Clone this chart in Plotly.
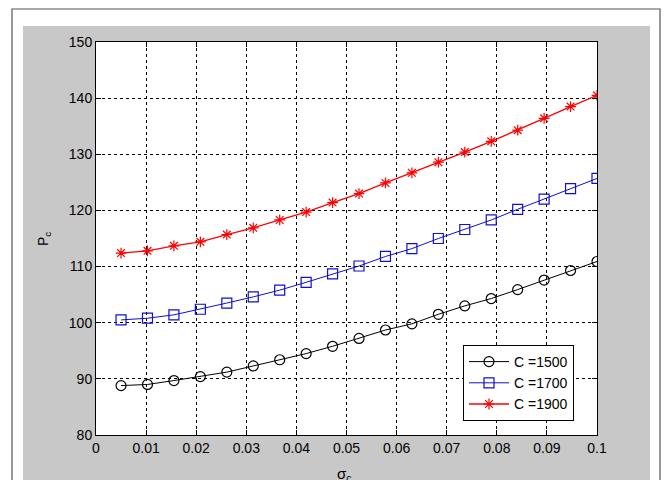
import plotly.graph_objects as go

sigma_c = [0.005 + i * 0.095 / 18 for i in range(19)]
p_1500 = [88.8, 89.0, 89.7, 90.4, 91.2, 92.3, 93.4, 94.5, 95.8, 97.2,
          98.7, 99.8, 101.5, 103.0, 104.3, 105.9, 107.6, 109.3, 110.9]
p_1700 = [100.5, 100.8, 101.4, 102.4, 103.5, 104.6, 105.8, 107.2, 108.7, 110.1,
          111.8, 113.2, 115.0, 116.6, 118.3, 120.2, 122.0, 123.9, 125.7]
p_1900 = [112.4, 112.8, 113.7, 114.4, 115.7, 116.9, 118.3, 119.7, 121.4, 123.0,
          124.9, 126.7, 128.6, 130.4, 132.3, 134.3, 136.4, 138.5, 140.5]
series_names = ["C =1500", "C =1700", "C =1900"]
x_ticks = [0, 0.01, 0.02, 0.03, 0.04, 0.05, 0.06, 0.07, 0.08, 0.09, 0.1]
x_tick_text = ["0", "0.01", "0.02", "0.03", "0.04", "0.05", "0.06", "0.07", "0.08", "0.09", "0.1"]
y_ticks = [80, 90, 100, 110, 120, 130, 140, 150]

W, H = 664, 480
L, R, T, B = 96, 597, 42, 435
pw, ph = R - L, B - T

def px(x):
    return (x - L) / pw

def py(y):
    return (B - y) / ph

fig = go.Figure()
styles = [
    dict(color="black", symbol="circle-open", size=10, width=1),
    dict(color="#1010d0", symbol="square-open", size=10, width=1),
    dict(color="#ff0000", symbol="asterisk-open", size=9, width=1.3),
]
for name, ys, st in zip(series_names, [p_1500, p_1700, p_1900], styles):
    fig.add_trace(go.Scatter(
        x=sigma_c, y=ys, mode="lines+markers", name=name,
        line=dict(color=st["color"], width=st["width"]),
        marker=dict(symbol=st["symbol"], size=st["size"], color=st["color"],
                    line=dict(color=st["color"], width=1.2)),
    ))

shapes = [
    dict(type="rect", xref="paper", yref="paper", layer="below",
         x0=px(12), x1=px(660), y0=py(9), y1=py(495),
         fillcolor="white", line=dict(color="#555555", width=1.2)),
    dict(type="rect", xref="paper", yref="paper", layer="below",
         x0=px(23), x1=px(650), y0=py(26), y1=py(495),
         fillcolor="#c8c8c8", line=dict(width=0)),
    dict(type="rect", xref="paper", yref="paper", layer="below",
         x0=0, x1=1, y0=0, y1=1,
         fillcolor="white", line=dict(width=0)),
]

font = dict(family="Liberation Sans, Arial, sans-serif", size=14, color="black")
axis_common = dict(
    showline=True, linecolor="black", linewidth=1, mirror="ticks",
    ticks="inside", ticklen=5, tickcolor="black",
    showgrid=True, gridcolor="black", gridwidth=1, griddash="3px,3px",
    zeroline=False, tickfont=font,
)

fig.update_layout(
    width=W, height=H,
    margin=dict(l=L, r=W - R, t=T, b=H - B),
    paper_bgcolor="white", plot_bgcolor="white",
    shapes=shapes,
    showlegend=True,
    legend=dict(x=px(574), y=py(421), xanchor="right", yanchor="bottom",
                bgcolor="white", bordercolor="black", borderwidth=1,
                font=font, itemwidth=40, tracegroupgap=0),
    xaxis=dict(range=[0, 0.1], tickvals=x_ticks, ticktext=x_tick_text, **axis_common),
    yaxis=dict(range=[80, 150], tickvals=y_ticks, **axis_common),
    annotations=[
        dict(text="σ<sub>c</sub>", xref="paper", yref="paper", x=px(344), y=py(474),
             xanchor="center", yanchor="middle", showarrow=False,
             font=dict(family="Liberation Sans, Arial, sans-serif", size=15, color="black")),
        dict(text="P<sub>c</sub>", xref="paper", yref="paper", x=px(44), y=py(239),
             xanchor="center", yanchor="middle", showarrow=False, textangle=-90,
             font=dict(family="Liberation Sans, Arial, sans-serif", size=14, color="black")),
    ],
)

fig.write_html("out.html")
